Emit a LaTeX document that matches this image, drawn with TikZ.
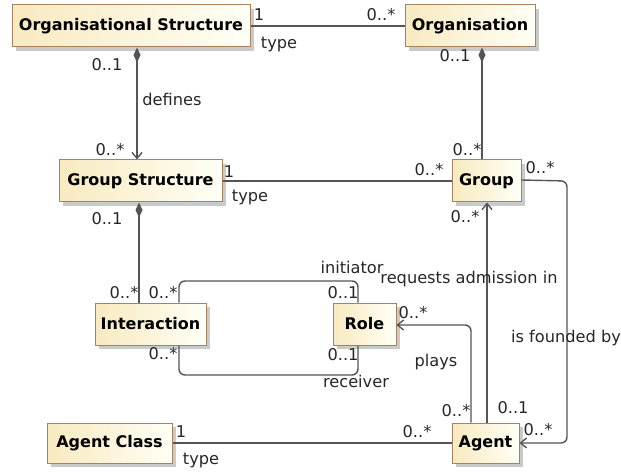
\documentclass[tikz,border=0pt]{standalone}
\usepackage{fontspec}
\setmainfont{DejaVu Sans}
\usetikzlibrary{arrows.meta,shadows,calc}
\definecolor{boxedge}{HTML}{A8825F}
\definecolor{boxleft}{HTML}{F8EAC0}
\definecolor{boxright}{HTML}{FFFFF6}
\definecolor{wire}{HTML}{555555}
\begin{document}
\begin{tikzpicture}[x=1pt,y=-1pt,
  cls/.style={draw=boxedge, line width=1pt, left color=boxleft, right color=boxright,
    inner sep=0pt, font=\fontsize{16}{18}\selectfont\bfseries,
    drop shadow={shadow xshift=4pt, shadow yshift=-4pt, fill=black!35, opacity=.6}},
  lbl/.style={font=\fontsize{16.2}{18}\selectfont, text=black!85, inner sep=0pt},
  assoc/.style={draw=wire, line width=1.4pt, rounded corners=6pt},
  comp/.style={assoc, {Diamond[length=15pt,width=7pt,fill=wire]}-{Straight Barb[length=6pt,width=10pt]}},
  compplain/.style={assoc, {Diamond[length=15pt,width=7pt,fill=wire]}-},
  nav/.style={assoc, -{Straight Barb[length=6pt,width=10pt]}}]
\useasboundingbox (0,0) rectangle (621,473);

% classes
\node[cls, minimum width=238pt, minimum height=42pt] (os)    at (131,26)    {Organisational Structure};
\node[cls, minimum width=130pt, minimum height=42pt] (org)   at (470,26)    {Organisation};
\node[cls, minimum width=163pt, minimum height=42pt] (gs)    at (140.5,181) {Group Structure};
\node[cls, minimum width=69pt,  minimum height=42pt] (grp)   at (486.5,181) {Group};
\node[cls, minimum width=111pt, minimum height=42pt] (inter) at (150.5,324) {Interaction};
\node[cls, minimum width=63pt,  minimum height=42pt] (role)  at (364.5,324) {Role};
\node[cls, minimum width=125pt, minimum height=40pt] (ac)    at (109.5,443) {Agent Class};
\node[cls, minimum width=67pt,  minimum height=40pt] (agent) at (485.5,443) {Agent};

% routing columns and rows
\coordinate (xos)  at (137,0);
\coordinate (xorg) at (482,0);
\coordinate (xgs)  at (139,0);
\coordinate (xloop) at (179,0);
\coordinate (xrole) at (358,0);
\coordinate (xplay) at (471,0);
\coordinate (xreq)  at (487,0);
\coordinate (xfound) at (567,0);
\coordinate (yinit) at (0,281);
\coordinate (yrecv) at (0,375);
\coordinate (yplay) at (0,325);

% associations
\draw[assoc] (os.east) -- (org.west);
\draw[comp] (os.south -| xos) -- (gs.north -| xos);
\draw[compplain] (org.south -| xorg) -- (grp.north -| xorg);
\draw[assoc] (gs.east) -- (grp.west);
\draw[compplain] (gs.south -| xgs) -- (inter.north -| xgs);
\draw[assoc] (inter.north -| xloop) -- (xloop |- yinit) -- (xrole |- yinit) -- (role.north -| xrole);
\draw[assoc] (inter.south -| xloop) -- (xloop |- yrecv) -- (xrole |- yrecv) -- (role.south -| xrole);
\draw[nav] (agent.north -| xplay) -- (xplay |- yplay) -- (role.east |- yplay);
\draw[nav] (agent.north -| xreq) -- (grp.south -| xreq);
\draw[nav] ($(grp.east)+(0,-1)$) -- (xfound |- grp.east) -- (xfound |- agent.east) -- (agent.east);
\draw[assoc] (ac.east) -- (agent.west);

% role names and multiplicities
\node[lbl] (l1)  at (259,15)  {1};
\node[lbl] (l2)  at (381,15)  {0..*};
\node[lbl] (l3)  at (279,44)  {type};
\node[lbl] (l4)  at (107,65)  {0..1};
\node[lbl] (l5)  at (172,99)  {defines};
\node[lbl] (l6)  at (455,56)  {0..1};
\node[lbl] (l7)  at (110,150) {0..*};
\node[lbl] (l8)  at (467,150) {0..*};
\node[lbl] (l9)  at (229,172) {1};
\node[lbl] (l10) at (250,197) {type};
\node[lbl] (l11) at (429,170) {0..*};
\node[lbl] (l12) at (540,168) {0..*};
\node[lbl] (l13) at (107,219) {0..1};
\node[lbl] (l14) at (465,217) {0..*};
\node[lbl] (l15) at (352,267) {initiator};
\node[lbl] (l16) at (469,279) {requests admission in};
\node[lbl] (l17) at (124,293) {0..*};
\node[lbl] (l18) at (163,293) {0..*};
\node[lbl] (l19) at (343,293) {0..1};
\node[lbl] (l20) at (413,313) {0..*};
\node[lbl] (l21) at (566,338) {is founded by};
\node[lbl] (l22) at (163,354) {0..*};
\node[lbl] (l23) at (343,355) {0..1};
\node[lbl] (l24) at (436,362) {plays};
\node[lbl] (l25) at (356,381) {receiver};
\node[lbl] (l26) at (513,408) {0..1};
\node[lbl] (l27) at (456,411) {0..*};
\node[lbl] (l28) at (538,430) {0..*};
\node[lbl] (l29) at (417,432) {0..*};
\node[lbl] (l30) at (181,432) {1};
\node[lbl] (l31) at (201,460) {type};
\end{tikzpicture}
\end{document}
